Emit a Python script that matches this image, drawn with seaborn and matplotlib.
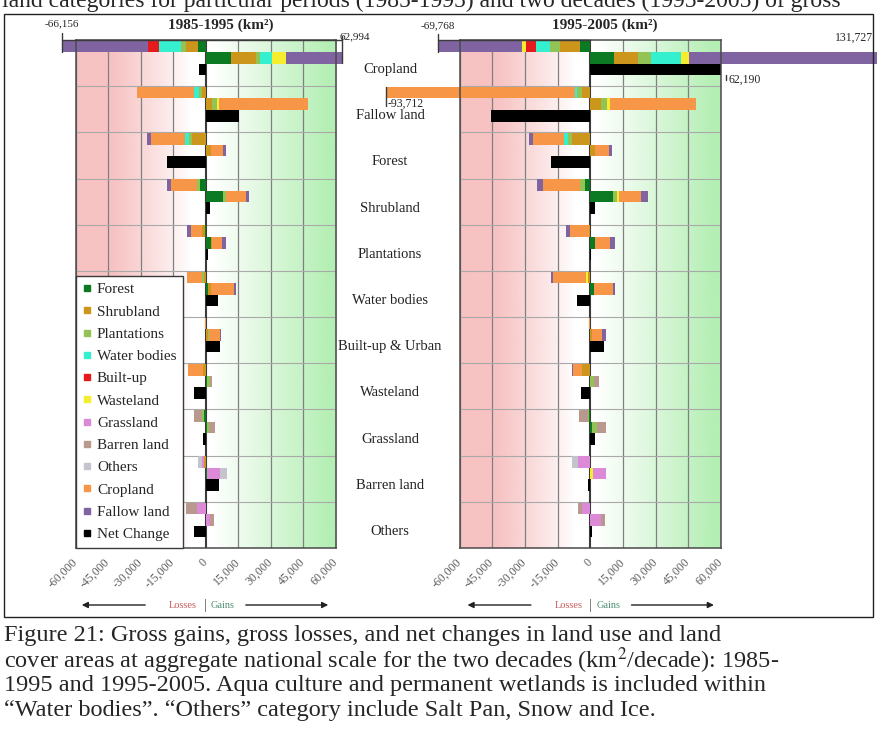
import numpy as np
import matplotlib
matplotlib.use("Agg")
import matplotlib.pyplot as plt
from matplotlib.colors import to_rgb
from matplotlib.lines import Line2D
from matplotlib.patches import Rectangle, FancyArrowPatch
from matplotlib.transforms import blended_transform_factory
import seaborn as sns

# ---------------------------------------------------------------- data
rows = ["Cropland", "Fallow land", "Forest", "Shrubland", "Plantations",
        "Water bodies", "Built-up & Urban", "Wasteland", "Grassland",
        "Barren land", "Others"]

classes = ["Forest", "Shrubland", "Plantations", "Water bodies", "Built-up",
           "Wasteland", "Grassland", "Barren land", "Others", "Cropland",
           "Fallow land"]

class_colors = ["#0b7a22", "#cc961c", "#93c255", "#34f0cf", "#e41a1c",
                "#f5ee2e", "#dc8ad8", "#b9998e", "#c4c4cc", "#f79646",
                "#8064a2"]

# km2/decade, one list per exchanging class, one entry per row class
losses_8595 = {
    "Forest":       [3800, 0, 0, 2500, 500, 0, 0, 0, 1000, 0, 0],
    "Shrubland":    [5300, 1800, 6500, 0, 1000, 1000, 0, 1100, 0, 800, 0],
    "Plantations":  [2300, 1500, 1200, 1500, 0, 500, 0, 0, 600, 0, 0],
    "Water bodies": [10000, 1900, 1800, 0, 0, 0, 0, 0, 0, 0, 0],
    "Built-up":     [5400, 0, 0, 0, 0, 0, 0, 0, 0, 0, 0],
    "Wasteland":    [0, 0, 0, 0, 0, 0, 0, 0, 0, 0, 0],
    "Grassland":    [0, 0, 0, 0, 0, 0, 0, 0, 0, 1000, 4000],
    "Barren land":  [0, 0, 0, 0, 0, 0, 0, 0, 4000, 0, 5000],
    "Others":       [0, 0, 0, 0, 0, 0, 0, 0, 0, 2000, 0],
    "Cropland":     [0, 26300, 15600, 12000, 5500, 7000, 300, 7200, 0, 0, 0],
    "Fallow land":  [39356, 0, 1800, 1700, 1500, 0, 0, 0, 0, 0, 0],
}
gains_8595 = {
    "Forest":       [11500, 0, 0, 8000, 2300, 1000, 300, 800, 800, 500, 0],
    "Shrubland":    [11500, 3000, 2500, 0, 800, 1200, 800, 0, 0, 0, 0],
    "Plantations":  [2000, 2000, 0, 1500, 0, 0, 300, 1000, 800, 0, 0],
    "Water bodies": [5500, 0, 0, 0, 0, 0, 0, 0, 0, 0, 0],
    "Built-up":     [0, 0, 0, 0, 0, 0, 0, 0, 0, 0, 0],
    "Wasteland":    [6500, 1200, 0, 0, 0, 0, 0, 0, 0, 0, 0],
    "Grassland":    [0, 0, 0, 0, 0, 0, 0, 0, 0, 6000, 2000],
    "Barren land":  [0, 0, 0, 0, 0, 0, 0, 1100, 2800, 0, 1600],
    "Others":       [0, 0, 0, 0, 0, 0, 0, 0, 0, 3500, 0],
    "Cropland":     [0, 40800, 5500, 9200, 4600, 10600, 5200, 0, 0, 0, 0],
    "Fallow land":  [25994, 0, 1200, 1000, 1800, 1200, 300, 0, 0, 0, 0],
}
net_8595 = [-3162, 15500, -17700, 2000, 1000, 5500, 6600, -5400, -1200,
            6200, -5400]

losses_9505 = {
    "Forest":       [4900, 0, 0, 2600, 0, 0, 0, 0, 500, 0, 0],
    "Shrubland":    [9100, 3800, 8500, 0, 800, 1200, 0, 4000, 0, 0, 0],
    "Plantations":  [4600, 2400, 1500, 2300, 0, 0, 0, 0, 500, 0, 0],
    "Water bodies": [6100, 600, 2000, 0, 0, 0, 0, 0, 0, 0, 0],
    "Built-up":     [4900, 0, 0, 0, 0, 0, 0, 0, 0, 0, 0],
    "Wasteland":    [1500, 0, 0, 0, 0, 600, 0, 0, 0, 0, 0],
    "Grassland":    [0, 0, 0, 0, 0, 0, 0, 0, 0, 5500, 4000],
    "Barren land":  [0, 0, 0, 0, 0, 0, 0, 0, 4000, 0, 1800],
    "Others":       [0, 0, 0, 0, 0, 0, 0, 0, 0, 2700, 0],
    "Cropland":     [0, 86912, 14500, 16700, 8400, 15200, 600, 3700, 0, 0, 0],
    "Fallow land":  [38668, 0, 1500, 2700, 1800, 800, 0, 700, 0, 0, 0],
}
gains_9505 = {
    "Forest":       [11100, 0, 0, 10600, 2000, 1500, 0, 0, 1000, 0, 0],
    "Shrubland":    [10600, 5000, 2000, 0, 0, 0, 1000, 0, 0, 0, 0],
    "Plantations":  [6100, 2500, 0, 1500, 0, 0, 0, 1500, 2200, 0, 0],
    "Water bodies": [13700, 0, 0, 0, 0, 0, 0, 0, 0, 0, 0],
    "Built-up":     [0, 0, 0, 0, 0, 0, 0, 0, 0, 0, 0],
    "Wasteland":    [3800, 1500, 0, 1200, 0, 0, 0, 0, 0, 1200, 0],
    "Grassland":    [0, 0, 0, 0, 0, 0, 0, 0, 0, 6100, 5000],
    "Barren land":  [0, 0, 0, 0, 0, 0, 0, 2500, 3800, 0, 1800],
    "Others":       [0, 0, 0, 0, 0, 0, 0, 0, 0, 0, 0],
    "Cropland":     [0, 39300, 6500, 9900, 7100, 8800, 4300, 0, 0, 0, 0],
    "Fallow land":  [86427, 0, 1500, 3100, 2400, 1200, 1800, 0, 0, 0, 0],
}
net_9505 = [62190, -45412, -18000, 2000, 500, -6300, 6500, -4400, 2000,
            -900, 1000]

tick_values = [-60000, -45000, -30000, -15000, 0, 15000, 30000, 45000, 60000]
legend_labels = classes + ["Net Change"]

# ---------------------------------------------------------------- layout
sns.set_theme(style="white")
plt.rcParams["font.family"] = ["Liberation Serif", "DejaVu Serif"]
plt.rcParams["mathtext.fontset"] = "stix"

W, H = 877, 742
fig = plt.figure(figsize=(W / 100, H / 100), dpi=100)
fig.patch.set_facecolor("white")


def fx(px):
    return px / W


def fy(py):
    return 1 - py / H


def add_axes_px(x0, y0, x1, y1):
    return fig.add_axes([fx(x0), fy(y1), (x1 - x0) / W, (y1 - y0) / H])


axL = add_axes_px(75.5, 40, 336, 548)
axR = add_axes_px(459.5, 40, 721, 548)

XMAX = 60000
n = len(rows)
ypos = np.arange(n)
BAR_H = 0.25
OFF_LOSS, OFF_GAIN, OFF_NET = 0.14, 0.39, 0.64


def shade(ax):
    xs = np.linspace(0, 1, 400)
    pink = np.zeros((1, 400, 4))
    pink[..., :3] = to_rgb("#f7c2c2")
    pink[0, :, 3] = np.clip(((1 - xs) - 0.12) / 0.6, 0, 1) ** 0.9
    ax.imshow(pink, extent=(-XMAX, 0, n, 0), aspect="auto", zorder=0,
              interpolation="bilinear")
    green = np.zeros((1, 400, 4))
    green[..., :3] = to_rgb("#b4efb4")
    green[0, :, 3] = np.clip((xs - 0.05) / 0.9, 0, 1)
    ax.imshow(green, extent=(0, XMAX, n, 0), aspect="auto", zorder=0,
              interpolation="bilinear")


def stacked(ax, table, sign, offset):
    base = np.zeros(n)
    for cls, col in zip(classes, class_colors):
        v = np.asarray(table[cls], dtype=float)
        ax.barh(ypos + offset, sign * v, left=sign * base, height=BAR_H,
                color=col, linewidth=0, zorder=3, clip_on=False)
        base += v
    return base


def draw_panel(ax, losses, gains, net):
    shade(ax)
    for t in tick_values:
        if t != 0:
            ax.axvline(t, color="#808080", lw=0.9, zorder=1)
    for b in range(1, n):
        ax.axhline(b, color="#a9a9a9", lw=0.8, zorder=1)
    ax.axvline(0, color="#3a3a3a", lw=1.5, zorder=2)

    loss_tot = stacked(ax, losses, -1, OFF_LOSS)
    gain_tot = stacked(ax, gains, 1, OFF_GAIN)
    sns.barplot(x=net, y=ypos + OFF_NET, orient="y", native_scale=True,
                color="black", saturation=1, width=BAR_H, errorbar=None,
                ax=ax, zorder=3, linewidth=0)

    ax.set_xlim(-XMAX, XMAX)
    ax.set_ylim(n, 0)
    ax.set_xlabel("")
    ax.set_ylabel("")
    ax.set_yticks([])
    ax.set_xticks(tick_values)
    ax.set_xticklabels([f"{t:,}" for t in tick_values], rotation=45,
                       ha="right", va="center", rotation_mode="anchor",
                       fontsize=8.5, color="#5a5a5a")
    ax.tick_params(axis="x", length=0, pad=9)
    for sp in ax.spines.values():
        sp.set_color("#4a4a4a")
        sp.set_linewidth(1.1)
        sp.set_zorder(5)
    return loss_tot, gain_tot


lossL, gainL = draw_panel(axL, losses_8595, gains_8595, net_8595)
lossR, gainR = draw_panel(axR, losses_9505, gains_9505, net_9505)

# end markers of the Cropland bars that run past the axis range
lkw = dict(color="#3a3a3a", lw=1.0, clip_on=False, zorder=6)
axL.plot([-lossL[0], gainL[0]], [0, 0], **lkw)
axL.plot([-lossL[0], -lossL[0]], [-0.16, 0.25], **lkw)
axL.plot([gainL[0], gainL[0]], [-0.08, 0.5], **lkw)
axL.annotate(f"-{lossL[0]:,.0f}", (-lossL[0], -0.36), ha="center",
             va="center", fontsize=8, annotation_clip=False)
axL.annotate(f"{gainL[0]:,.0f}", (gainL[0], -0.08), xytext=(-2, 0),
             textcoords="offset points", ha="left", va="center",
             fontsize=8, annotation_clip=False)

axR.plot([-lossR[0], 0], [0, 0], **lkw)
axR.plot([-lossR[0], -lossR[0]], [-0.14, 0.25], **lkw)
axR.annotate(f"-{lossR[0]:,.0f}", (-lossR[0], -0.31), ha="center",
             va="center", fontsize=8, annotation_clip=False)
axR.annotate(f"{gainR[0]:,.0f}", (gainR[0], -0.05), xytext=(-3, 0),
             textcoords="offset points", ha="right", va="center",
             fontsize=8.5, annotation_clip=False)
axR.plot([-lossR[1], -lossR[1]], [1.02, 1.42], **lkw)
axR.annotate(f"-{lossR[1]:,.0f}", (-lossR[1], 1.38), xytext=(1, 0),
             textcoords="offset points", ha="left", va="center",
             fontsize=8.5, annotation_clip=False)
axR.plot([net_9505[0], net_9505[0]], [0.76, 0.86], **lkw)
axR.annotate(f"{net_9505[0]:,}", (net_9505[0], 0.86), xytext=(2, 0),
             textcoords="offset points", ha="left", va="center",
             fontsize=8.5, annotation_clip=False)

# panel titles
fig.text(fx(221), fy(25), "1985-1995 (km²)", ha="center", va="center",
         fontsize=11, fontweight="bold")
fig.text(fx(605), fy(25), "1995-2005 (km²)", ha="center", va="center",
         fontsize=11, fontweight="bold")

# row names between the two panels
row_tr = blended_transform_factory(fig.transFigure, axR.transData)
for i, name in enumerate(rows):
    fig.text(fx(390), i + 0.64, name, transform=row_tr, ha="center",
             va="center", fontsize=10.5, color="#222222")

# legend
handles = [Line2D([], [], marker="s", ls="", color=c, markersize=5)
           for c in class_colors + ["black"]]
leg = axL.legend(handles, legend_labels, loc="lower left",
                 bbox_to_anchor=(0, 0), borderaxespad=0, frameon=True,
                 fancybox=False, framealpha=1, edgecolor="#3a3a3a",
                 fontsize=11, handlelength=0.6, handletextpad=0.35,
                 labelspacing=0.56, borderpad=0.45)
leg.get_frame().set_linewidth(1.0)
leg.set_zorder(7)

# losses / gains direction keys
for zero_px in (205, 590.7):
    yk = fy(605)
    fig.patches.append(FancyArrowPatch(
        (fx(zero_px - 57), yk), (fx(zero_px - 126), yk),
        transform=fig.transFigure, arrowstyle="-|>", mutation_scale=9,
        color="#222222", lw=1.0))
    fig.patches.append(FancyArrowPatch(
        (fx(zero_px + 38), yk), (fx(zero_px + 126), yk),
        transform=fig.transFigure, arrowstyle="-|>", mutation_scale=9,
        color="#222222", lw=1.0))
    fig.text(fx(zero_px - 8), yk, "Losses", ha="right", va="center",
             fontsize=7.5, color="#c85a5a")
    fig.text(fx(zero_px), yk, "|", ha="center", va="center",
             fontsize=10, color="#5a5a5a")
    fig.text(fx(zero_px + 6), yk, "Gains", ha="left", va="center",
             fontsize=7.5, color="#4f8f70")

# frame around the figure body
fig.patches.append(Rectangle((fx(4), fy(617)), fx(873) - fx(4),
                             fy(14) - fy(617), transform=fig.transFigure,
                             fill=False, edgecolor="#222222", lw=1.0))

# running text above and caption below
fig.text(fx(2), fy(7), "land categories for particular periods (1985-1995) "
         "and two decades (1995-2005) of gross", ha="left", va="baseline",
         fontsize=17)
caption = [
    "Figure 21: Gross gains, gross losses, and net changes in land use and land",
    "cover areas at aggregate national scale for the two decades (km$^2$/decade): 1985-",
    "1995 and 1995-2005. Aqua culture and permanent wetlands is included within",
    "\u201cWater bodies\u201d. \u201cOthers\u201d category include Salt Pan, Snow and Ice.",
]
for k, line in enumerate(caption):
    fig.text(fx(4), fy(636 + 24.7 * k), line, ha="left", va="center",
             fontsize=17.5)

fig.savefig("out.png", dpi=100)
